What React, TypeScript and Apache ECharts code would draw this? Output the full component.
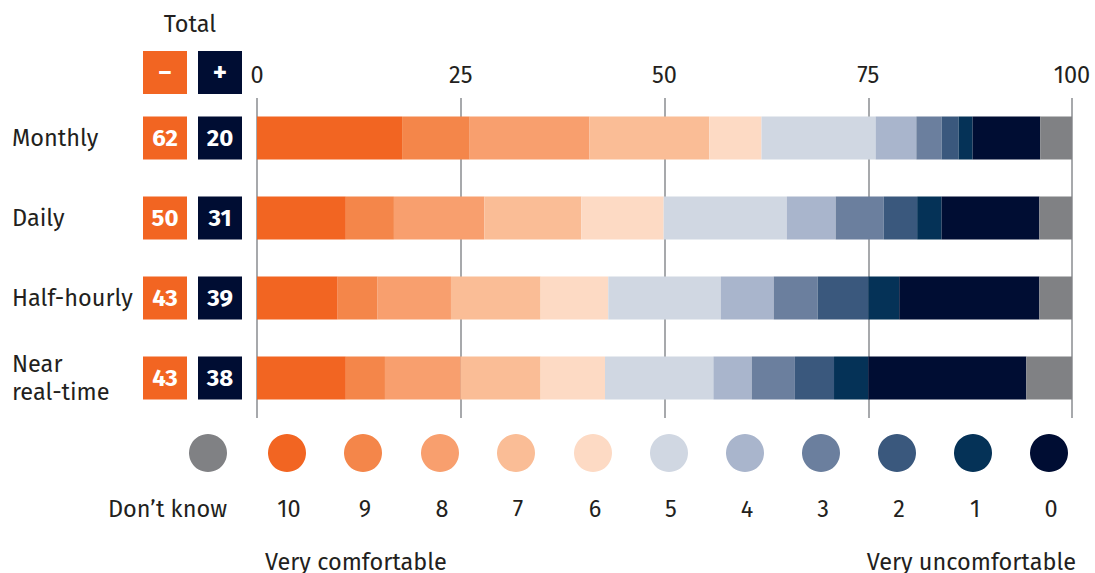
import React, { useEffect, useRef } from "react";
import * as echarts from "echarts";

const categories = ["Monthly", "Daily", "Half-hourly", "Near\nreal-time"];
const seriesNames = ["10", "9", "8", "7", "6", "5", "4", "3", "2", "1", "0", "Don\u2019t know"];
const seriesColors = [
  "#F26522", "#F4864A", "#F89F6E", "#FABD96", "#FDDAC4",
  "#D0D7E2", "#A9B5CC", "#6B7F9E", "#3A587D", "#053257", "#000D33", "#808184",
];
// values per series (rows: Monthly, Daily, Half-hourly, Near real-time)
const v10 = [17.8, 10.9, 9.9, 10.9];
const v9 = [8.3, 5.9, 4.9, 4.8];
const v8 = [14.7, 11.1, 9.0, 9.3];
const v7 = [14.7, 11.9, 11.0, 9.8];
const v6 = [6.4, 10.1, 8.3, 7.9];
const v5 = [14.0, 15.1, 13.8, 13.3];
const v4 = [5.0, 6.0, 6.5, 4.7];
const v3 = [3.1, 5.9, 5.4, 5.3];
const v2 = [2.1, 4.1, 6.2, 4.8];
const v1 = [1.7, 3.0, 3.8, 4.2];
const v0 = [8.3, 12.0, 17.2, 19.4];
const vDK = [3.9, 4.0, 4.0, 5.6];
const seriesValues = [v10, v9, v8, v7, v6, v5, v4, v3, v2, v1, v0, vDK];
const totalNeg = [62, 50, 43, 43];
const totalPos = [20, 31, 39, 38];
const xTicks = [0, 25, 50, 75, 100];
const legendOrder = ["Don\u2019t know", "10", "9", "8", "7", "6", "5", "4", "3", "2", "1", "0"];

const FONT = "'Fira Sans', 'Noto Sans', sans-serif";
const FS = 23.5;
const TEXT = "#231F20";
const ORANGE = "#F26522";
const NAVY = "#000D33";

export default function App() {
  const ref = useRef<HTMLDivElement>(null);
  useEffect(() => {
    if (!ref.current) return;
    const chart = echarts.init(ref.current, undefined, { renderer: "svg" });

    const legendX = [208, 287, 363, 440, 516, 593, 669, 745, 821, 897, 973, 1049];
    const legendGraphics: any[] = [];
    legendOrder.forEach((name, i) => {
      const idx = seriesNames.indexOf(name);
      legendGraphics.push({
        type: "circle",
        shape: { cx: legendX[i], cy: 453, r: 19 },
        style: { fill: seriesColors[idx] },
      });
      legendGraphics.push({
        type: "text",
        x: i === 0 ? 227 : legendX[i] + 2,
        y: 509,
        style: {
          text: name,
          fill: TEXT,
          font: `${FS}px ${FONT}`,
          align: i === 0 ? "right" : "center",
          verticalAlign: "middle",
        },
      });
    });

    const boxLabel = (color: string) => ({
      fontFamily: FONT,
      fontSize: 24,
      fontWeight: "bold" as const,
      color: "#fff",
      backgroundColor: color,
      width: 44,
      height: 43,
      lineHeight: 43,
      align: "center" as const,
    });

    chart.setOption({
      animation: false,
      grid: { left: 257, right: 23, top: 98, bottom: 155, containLabel: false },
      xAxis: {
        type: "value",
        position: "top",
        min: 0,
        max: 100,
        interval: 25,
        axisLine: { show: false },
        axisTick: { show: false },
        axisLabel: {
          margin: 11,
          fontFamily: FONT,
          fontSize: FS,
          color: TEXT,
          formatter: (v: number) => (xTicks.includes(v) ? String(v) : ""),
        },
        splitLine: { show: true, lineStyle: { color: "#A7A9AC", width: 2 } },
      },
      yAxis: [
        {
          type: "category",
          data: categories,
          inverse: true,
          axisLine: { show: false },
          axisTick: { show: false },
          axisLabel: {
            align: "left",
            margin: 245,
            fontFamily: FONT,
            fontSize: FS,
            lineHeight: 28,
            color: TEXT,
          },
        },
        {
          type: "category",
          data: categories,
          inverse: true,
          position: "left",
          axisLine: { show: false },
          axisTick: { show: false },
          axisLabel: {
            margin: 15,
            formatter: (_: string, i: number) => `{b|${totalPos[i]}}`,
            rich: { b: boxLabel(NAVY) },
          },
        },
        {
          type: "category",
          data: categories,
          inverse: true,
          position: "left",
          axisLine: { show: false },
          axisTick: { show: false },
          axisLabel: {
            margin: 70,
            formatter: (_: string, i: number) => `{a|${totalNeg[i]}}`,
            rich: { a: boxLabel(ORANGE) },
          },
        },
      ],
      series: seriesNames.map((name, i) => ({
        type: "bar",
        name,
        stack: "total",
        barWidth: 43,
        yAxisIndex: 0,
        itemStyle: { color: seriesColors[i] },
        data: seriesValues[i],
      })),
      graphic: [
        {
          type: "text",
          x: 190,
          y: 24,
          style: { text: "Total", fill: TEXT, font: `${FS}px ${FONT}`, align: "center", verticalAlign: "middle" },
        },
        { type: "rect", shape: { x: 143, y: 51, width: 44, height: 43 }, style: { fill: ORANGE } },
        {
          type: "text",
          x: 165,
          y: 72,
          style: { text: "\u2013", fill: "#fff", font: `bold 24px ${FONT}`, align: "center", verticalAlign: "middle" },
        },
        { type: "rect", shape: { x: 198, y: 51, width: 44, height: 43 }, style: { fill: NAVY } },
        {
          type: "text",
          x: 220,
          y: 72,
          style: { text: "+", fill: "#fff", font: `bold 27px ${FONT}`, align: "center", verticalAlign: "middle" },
        },
        ...legendGraphics,
        {
          type: "text",
          x: 265,
          y: 562,
          style: { text: "Very comfortable", fill: TEXT, font: `${FS}px ${FONT}`, align: "left", verticalAlign: "middle" },
        },
        {
          type: "text",
          x: 1076,
          y: 562,
          style: { text: "Very uncomfortable", fill: TEXT, font: `${FS}px ${FONT}`, align: "right", verticalAlign: "middle" },
        },
      ],
    });
    return () => chart.dispose();
  }, []);
  return (
    <div
      ref={ref}
      style={{ position: "fixed", left: 0, top: 0, width: 1095, height: 573, background: "#fff" }}
    />
  );
}
